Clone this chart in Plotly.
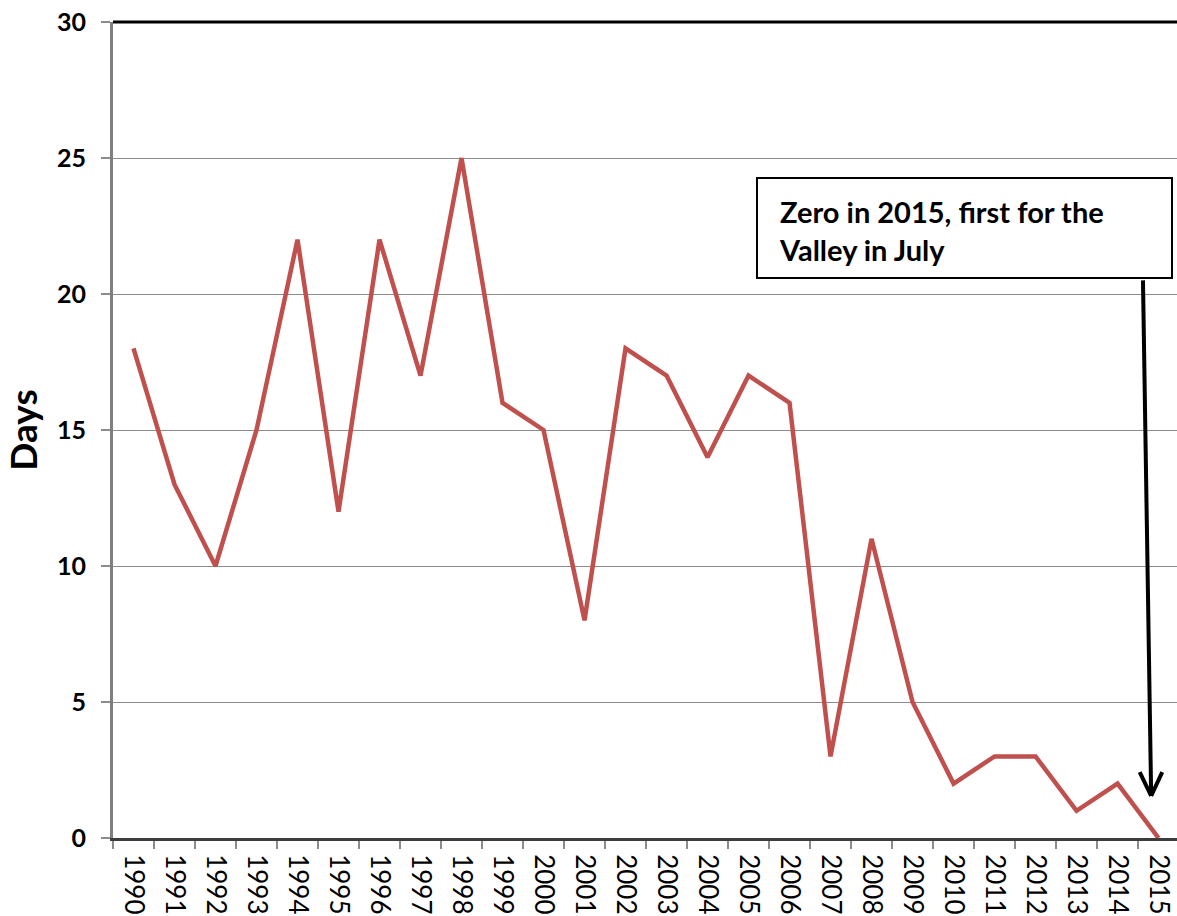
import plotly.graph_objects as go

years = [str(y) for y in range(1990, 2016)]
days = [18, 13, 10, 15, 22, 12, 22, 17, 25, 16, 15, 8, 18, 17, 14, 17, 16,
        3, 11, 5, 2, 3, 3, 1, 2, 0]
y_ticks = [0, 5, 10, 15, 20, 25, 30]

note_text = "Zero in 2015, first for the<br>Valley in July"

FONT = "Lato, Carlito, Calibri, sans-serif"
GRID = "#8c8c8c"

W, H = 1177, 916
ML, MT, MB = 113, 22, 78
PW, PH = W - ML, H - MT - MB

fig = go.Figure()
fig.add_trace(
    go.Scatter(
        x=years,
        y=days,
        mode="lines",
        line={"color": "#c0504d", "width": 4.5},
        showlegend=False,
        hoverinfo="x+y",
        cliponaxis=False,
    )
)

# arrow from the note down to the 2015 zero (V-shaped open head)
arrow = [
    ((24.62, 20.5), (24.82, 1.55)),
    ((24.54, 2.42), (24.82, 1.55)),
    ((25.09, 2.42), (24.82, 1.55)),
]
for (x0, y0), (x1, y1) in arrow:
    fig.add_shape(
        type="line", xref="x", yref="y",
        x0=x0, y0=y0, x1=x1, y1=y1,
        line={"color": "black", "width": 4},
    )

# black rule along the top of the plot area
fig.add_shape(
    type="line", xref="paper", yref="paper",
    x0=0, x1=1, y0=1, y1=1,
    line={"color": "black", "width": 3},
)

# note box (pixel positions measured from the plot-area corner)
fig.add_shape(
    type="rect", xref="paper", yref="paper",
    x0=644 / PW, x1=1059 / PW,
    y0=(PH - 256) / PH, y1=(PH - 156) / PH,
    line={"color": "black", "width": 2},
    fillcolor="white",
)
fig.add_annotation(
    xref="paper", yref="paper",
    x=664 / PW, y=(PH - 208) / PH,
    text=note_text,
    showarrow=False,
    xanchor="left", yanchor="middle", align="left",
    font={"family": FONT, "size": 29, "color": "black", "weight": "bold"},
)

fig.update_xaxes(
    type="category",
    range=[-0.5, 25.45],
    automargin=False,
    ticklabeloverflow="allow",
    ticklabelstandoff=8,
    tickangle=90,
    tickson="boundaries",
    ticks="outside",
    ticklen=8,
    tickcolor=GRID,
    tickwidth=2,
    showgrid=False,
    showline=True,
    linecolor="#3c3c3c",
    linewidth=3,
    tickfont={"family": FONT, "size": 26, "color": "black"},
)
fig.update_yaxes(
    range=[0, 30],
    tickvals=y_ticks,
    automargin=False,
    ticklabeloverflow="allow",
    ticklabelstandoff=10,
    ticks="outside",
    ticklen=9,
    tickcolor=GRID,
    tickwidth=2,
    showgrid=True,
    gridcolor=GRID,
    gridwidth=1.2,
    zeroline=False,
    showline=True,
    linecolor="#7f7f7f",
    linewidth=3,
    tickfont={"family": FONT, "size": 25, "color": "black", "weight": "bold"},
    title={"text": "Days", "standoff": 22,
           "font": {"family": FONT, "size": 37, "color": "black", "weight": "bold"}},
)
fig.update_layout(
    width=W,
    height=H,
    margin={"l": ML, "r": 0, "t": MT, "b": MB},
    plot_bgcolor="white",
    paper_bgcolor="white",
)

# drop the page's default body margin so the figure fills the window
fig.write_html(
    "out.html",
    config={"displayModeBar": False},
    post_script="document.body.style.margin='0';document.body.style.overflow='hidden';",
)
